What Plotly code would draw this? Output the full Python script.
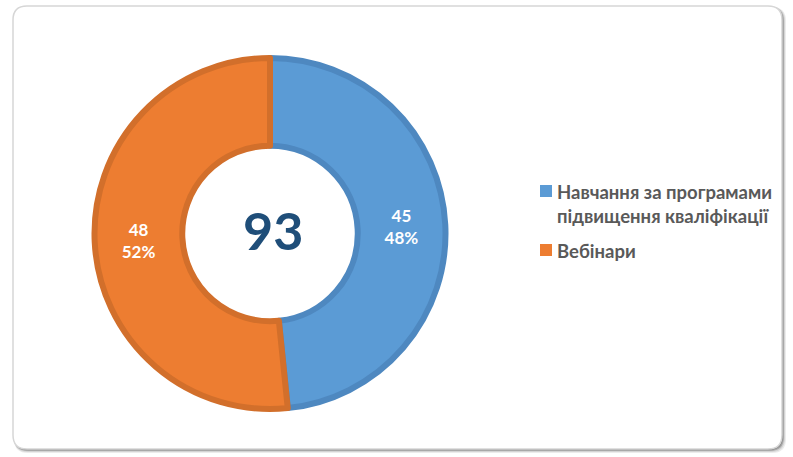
import plotly.graph_objects as go

labels = ["Навчання за програмами", "Вебінари"]
legend_lines = [["Навчання за програмами", "підвищення кваліфікації"], ["Вебінари"]]
values = [45, 48]
total_label = "93"
fill_colors = ["#5B9BD5", "#ED7D31"]
edge_colors = ["#4E88C0", "#D26F2B"]

W, H = 793, 457
cx, cy, R = 270, 233.5, 175.5


def px(x):
    return x / W


def py(y):
    return 1 - y / H


fig = go.Figure()
fig.add_trace(go.Pie(
    labels=labels, values=values, hole=0.5, sort=False, direction="clockwise",
    rotation=0,
    marker=dict(colors=fill_colors, line=dict(color=edge_colors, width=6)),
    texttemplate="<b>%{value}<br>%{percent:.0%}</b>",
    textposition="inside", insidetextorientation="horizontal",
    textfont=dict(family="Lato, Open Sans, sans-serif", size=17, color="white"),
    domain=dict(x=[px(cx - R), px(cx + R)], y=[py(cy + R), py(cy - R)]),
    showlegend=False,
))

fig.add_annotation(x=px(cx + 3), y=py(230), xref="paper", yref="paper",
                   text="<b>" + total_label + "</b>", showarrow=False,
                   font=dict(family="Lato, Open Sans, sans-serif", size=52, color="#1F4E79"))


def rrect(x0, y0, x1, y1, r):
    pts = lambda x, y: f"{px(x):.5f},{py(y):.5f}"
    return (f"M {pts(x0+r, y0)} L {pts(x1-r, y0)} Q {pts(x1, y0)} {pts(x1, y0+r)} "
            f"L {pts(x1, y1-r)} Q {pts(x1, y1)} {pts(x1-r, y1)} L {pts(x0+r, y1)} "
            f"Q {pts(x0, y1)} {pts(x0, y1-r)} L {pts(x0, y0+r)} Q {pts(x0, y0)} {pts(x0+r, y0)} Z")


shapes = []
for off, c in [(5, "#ececec"), (4, "#d4d4d4"), (3, "#a8a8a8"), (2, "#808080")]:
    shapes.append(dict(type="path", xref="paper", yref="paper", layer="below",
                       line=dict(width=0), fillcolor=c,
                       path=rrect(14, 7, 781 + off, 448 + off, 14)))
shapes.append(dict(type="path", xref="paper", yref="paper", layer="below",
                   line=dict(color="#d6d6d6", width=1.5), fillcolor="white",
                   path=rrect(13, 6, 782, 449, 14)))

leg_y = [191, 250]
for i, lines in enumerate(legend_lines):
    y0 = leg_y[i]
    shapes.append(dict(type="rect", xref="paper", yref="paper", line=dict(width=0),
                       fillcolor=fill_colors[i],
                       x0=px(540), x1=px(552), y0=py(y0 - 6), y1=py(y0 + 6)))
    fig.add_annotation(x=px(555), y=py(y0 - 12), xref="paper", yref="paper",
                       xanchor="left", yanchor="top", align="left", showarrow=False,
                       text="<b>" + "<br>".join(lines) + "</b>",
                       font=dict(family="Lato, Open Sans, sans-serif", size=18.5, color="#595959"))

fig.update_layout(
    width=W, height=H, margin=dict(l=0, r=0, t=0, b=0),
    paper_bgcolor="white", plot_bgcolor="white",
    shapes=shapes, showlegend=False,
)

fig.write_html("out.html", config={"displayModeBar": False},
               post_script="document.body.style.margin='0';document.body.style.overflow='hidden';")
